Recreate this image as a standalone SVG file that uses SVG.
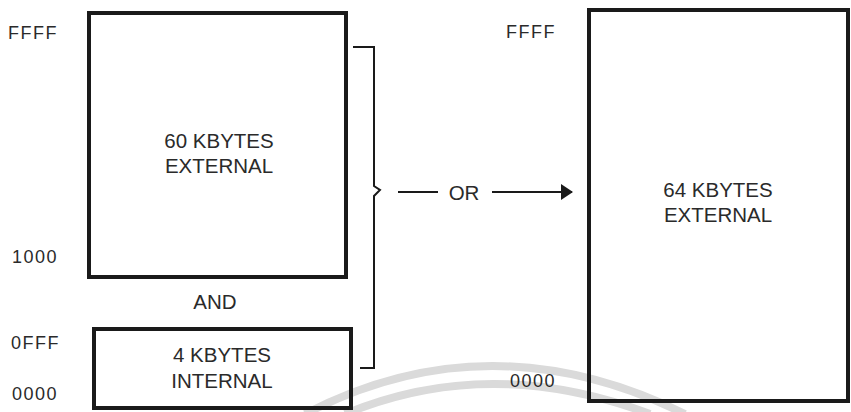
<svg xmlns="http://www.w3.org/2000/svg" width="851" height="412" viewBox="0 0 851 412">
<style>
.box{fill:none;stroke:#1a1a1a;stroke-width:4}
.t{font-family:"Liberation Sans",Arial,sans-serif;font-size:20.5px;fill:#2a2a2a;text-anchor:middle}
.a{font-family:"Liberation Sans",Arial,sans-serif;font-size:18px;fill:#2a2a2a;letter-spacing:1.5px}
.ln{fill:none;stroke:#1a1a1a;stroke-width:2}
.wm{fill:none;stroke:#dadada;stroke-width:8}
</style>
<defs>
<marker id="ah" markerWidth="12" markerHeight="16" refX="11" refY="8" orient="auto" markerUnits="userSpaceOnUse">
<path d="M0,0 L12,8 L0,16 Z" fill="#1a1a1a"/>
</marker>
</defs>
<rect width="851" height="412" fill="#fff"/>
<g id="watermark">
<path class="wm" d="M305 414 Q490 318 685 414"/>
<path class="wm" d="M345 414 Q490 354 650 414"/>
</g>
<g id="ext60">
<rect class="box" x="89" y="13" width="257" height="264"/>
<text class="t" x="219" y="148">60 KBYTES</text>
<text class="t" x="219" y="173">EXTERNAL</text>
</g>
<g id="int4">
<rect class="box" x="94" y="329" width="257" height="79"/>
<text class="t" x="222" y="362">4 KBYTES</text>
<text class="t" x="222" y="388">INTERNAL</text>
</g>
<g id="ext64">
<rect class="box" x="589" y="10" width="259" height="391"/>
<text class="t" x="718" y="197">64 KBYTES</text>
<text class="t" x="718" y="222">EXTERNAL</text>
</g>
<g id="labels">
<text class="a" x="8" y="39">FFFF</text>
<text class="a" x="12" y="263">1000</text>
<text class="a" x="11" y="349">0FFF</text>
<text class="a" x="12" y="400">0000</text>
<text class="a" x="506" y="38">FFFF</text>
<text class="a" x="510" y="387">0000</text>
<text class="t" x="215" y="309">AND</text>
</g>
<g id="connectors">
<path class="ln" d="M353 47 H374 V186 L380 190 L374 196 V368 H360"/>
<path class="ln" d="M398 192 H438"/>
<text class="t" x="464" y="200">OR</text>
<path class="ln" d="M492 192 H572" marker-end="url(#ah)"/>
</g>
</svg>
